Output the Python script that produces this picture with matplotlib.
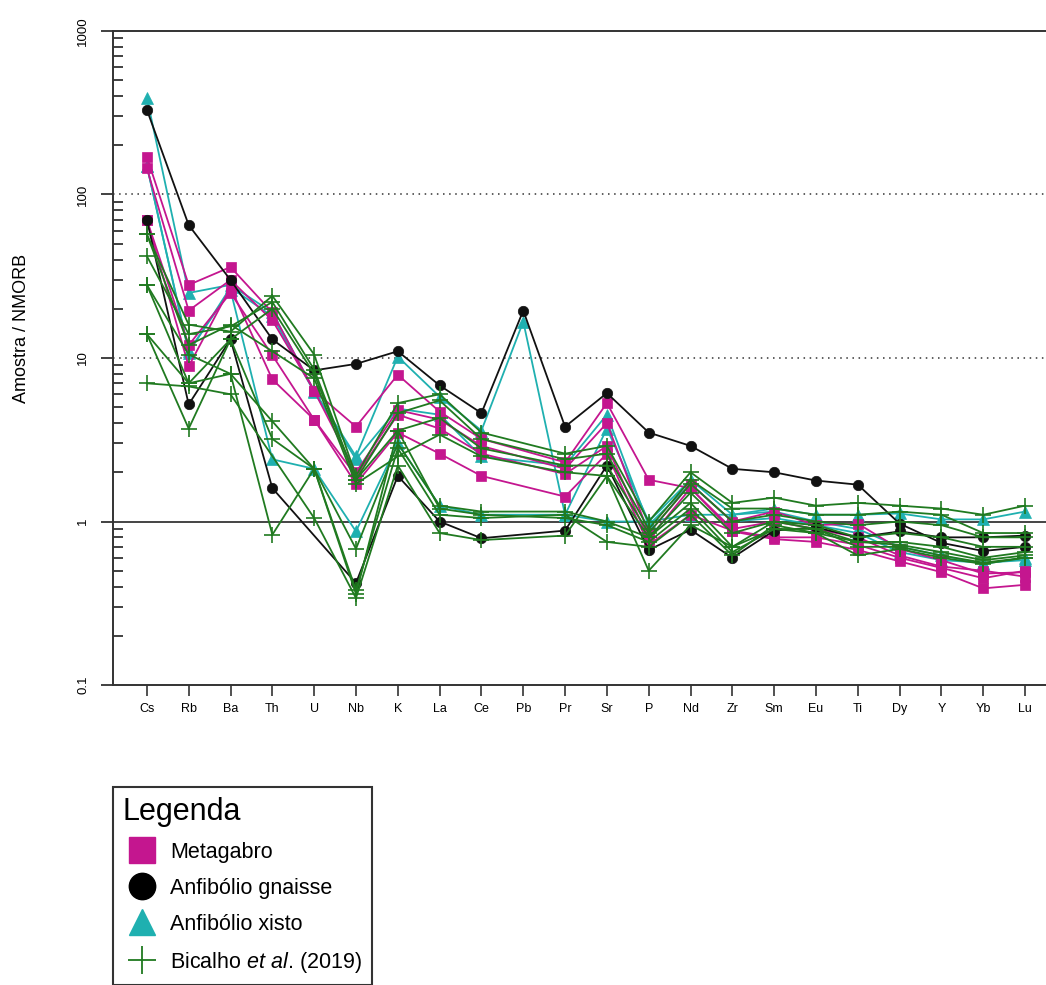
import numpy as np
import matplotlib
matplotlib.use('Agg')
import matplotlib.pyplot as plt
from matplotlib.lines import Line2D
from matplotlib.ticker import LogLocator, NullFormatter

plt.rcParams['font.family'] = ['Liberation Sans', 'DejaVu Sans']
plt.rcParams['mathtext.fontset'] = 'custom'
plt.rcParams['mathtext.rm'] = 'Liberation Sans'
plt.rcParams['mathtext.it'] = 'Liberation Sans:italic'

nan = np.nan

elements = ['Cs', 'Rb', 'Ba', 'Th', 'U', 'Nb', 'K', 'La', 'Ce', 'Pb', 'Pr',
            'Sr', 'P', 'Nd', 'Zr', 'Sm', 'Eu', 'Ti', 'Dy', 'Y', 'Yb', 'Lu']

# sample / N-MORB, one row per sample (nan = not analysed)
metagabro = [
    [170, 28, 36, 19, 6.3, 3.8, 7.9, 4.7, 3.2, nan, 2.3, 5.3, 1.8, 1.6, 0.87, 0.78, 0.75, 0.67, 0.57, 0.49, 0.39, 0.41],
    [145, 19.5, 30, 17, 6.3, 2.0, 4.8, 4.2, 2.9, nan, 2.1, 4.0, 0.85, 1.7, 1.0, 1.15, 0.95, 0.97, 0.68, 0.58, 0.48, 0.49],
    [70, 12, 25, 10.4, 4.2, 1.9, 4.5, 3.7, 2.6, nan, 1.95, 2.9, 0.78, 1.6, 0.9, 1.0, 0.9, 0.8, 0.62, 0.53, 0.5, 0.46],
    [70, 8.9, 27, 7.4, 4.2, 1.7, 3.5, 2.6, 1.9, nan, 1.42, 2.6, 0.72, 1.1, 0.88, 0.8, 0.8, 0.72, 0.6, 0.52, 0.45, 0.5],
]
anf_gnaisse = [
    [330, 65, 30, 13, 8.4, 9.2, 11, 6.8, 4.6, 19.5, 3.8, 6.1, 3.5, 2.9, 2.1, 2.0, 1.78, 1.68, 0.97, 0.74, 0.66, 0.70],
    [70, 5.2, 13, 1.6, nan, 0.42, 1.9, 1.0, 0.79, nan, 0.88, 2.2, 0.67, 0.89, 0.6, 0.88, 0.92, 0.8, 0.87, 0.8, 0.8, 0.82],
]
anf_xisto = [
    [390, 25, 28, 19, 6.3, 2.5, 10.2, 5.8, 3.6, 16.7, 1.1, 3.7, 1.0, 1.8, 1.1, 1.15, 1.0, 0.9, 0.7, 0.62, 0.55, 0.6],
    [150, 11, 26, 2.4, 2.1, 0.87, 3.0, 1.25, 1.1, nan, 1.1, 1.0, 1.0, 1.1, 1.1, 1.2, 1.1, 1.1, 1.12, 1.03, 1.03, 1.15],
    [150, 10.8, 27, 18, 6.2, 2.4, 4.9, 4.5, 2.5, nan, 2.2, 4.5, 0.95, 1.7, 1.0, 1.05, 0.95, 0.85, 0.65, 0.58, 0.56, 0.58],
]
bicalho = [
    [57, 16, 14.5, 24, 10.5, 1.9, 5.3, 6.0, 3.5, nan, 2.6, 2.9, 1.0, 2.0, 1.3, 1.4, 1.25, 1.3, 1.25, 1.2, 1.1, 1.25],
    [42, 14, 15.6, 22, 8.5, 1.8, 4.6, 5.5, 3.2, nan, 2.4, 2.6, 0.9, 1.8, 1.2, 1.2, 1.1, 1.1, 1.15, 1.1, 0.85, 0.85],
    [28, 7.0, 13, 20, 8.0, 1.8, 3.6, 4.3, 2.8, nan, 2.2, 2.2, 0.85, 1.7, 1.0, 1.1, 1.0, 0.95, 1.0, 0.95, 0.8, 0.8],
    [57, 12, 16, 11, 7.5, 1.7, 2.5, 3.4, 2.5, nan, 2.0, 1.9, 0.8, 1.5, 0.85, 1.0, 0.95, 0.8, 0.85, 0.8, 0.7, 0.7],
    [14, 7.0, 8.0, 4.1, 2.1, 0.68, 3.0, 1.25, 1.15, nan, 1.15, 1.0, 0.8, 1.3, 0.7, 1.0, 0.9, 0.75, 0.75, 0.7, 0.6, 0.65],
    [14, 3.7, 13, 3.2, 2.1, 0.38, 2.8, 1.1, 1.05, nan, 1.1, 0.75, 0.7, 1.1, 0.62, 0.95, 0.85, 0.62, 0.68, 0.6, 0.55, 0.6],
    [7.0, 6.7, 6.0, nan, 1.05, 0.34, 2.2, 0.85, 0.77, nan, 0.82, 1.9, 0.5, 0.95, 0.7, 0.9, 0.85, 0.75, 0.72, 0.65, 0.58, 0.62],
    [28, 10.5, 8.0, 0.83, 2.1, 0.36, 3.6, 1.2, 1.1, nan, 1.05, 0.95, 0.75, 1.2, 0.65, 0.9, 0.9, 0.7, 0.7, 0.62, 0.56, 0.6],
]

MAGENTA = '#c4168f'
BLACK = '#111111'
TEAL = '#1fb0b0'
GREEN = '#207a20'

W, H = 1046, 985
fig = plt.figure(figsize=(W / 100, H / 100), dpi=100)
ax = fig.add_axes([113 / W, 1 - 685 / H, 1 - 113 / W, (685 - 31) / H])

x = np.arange(len(elements))


def draw(group, color, marker, ms, mew, z):
    for vals in group:
        v = np.array(vals, dtype=float)
        ok = ~np.isnan(v)
        ax.plot(x[ok], v[ok], color=color, lw=1.3, marker=marker, ms=ms,
                mfc=color, mec=color, mew=mew, zorder=z)


draw(anf_xisto, TEAL, '^', 8.5, 0.5, 3)
draw(metagabro, MAGENTA, 's', 7.5, 0.5, 4)
draw(anf_gnaisse, BLACK, 'o', 7.5, 0.5, 5)
draw(bicalho, GREEN, '+', 11, 1.2, 6)

# reference levels
ax.axhline(100, color='#333333', lw=1.1, ls=(0, (1, 3)), zorder=1)
ax.axhline(10, color='#333333', lw=1.1, ls=(0, (1, 3)), zorder=1)
ax.axhline(1, color='#444444', lw=1.4, zorder=1)

ax.set_yscale('log')
ax.set_ylim(0.1, 1000)
ax.set_xlim(-0.81, 21.5)

ax.set_yticks([0.1, 1, 10, 100, 1000])
ax.set_yticklabels(['0.1', '1', '10', '100', '1000'], rotation=90, va='center')
ax.yaxis.set_minor_locator(LogLocator(base=10, subs=np.arange(2, 10), numticks=20))
ax.yaxis.set_minor_formatter(NullFormatter())
ax.tick_params(axis='y', which='major', direction='out', length=9, width=1.3,
               labelsize=9.5, pad=8, color='#333333')
ax.tick_params(axis='y', which='minor', direction='in', length=7, width=1.3,
               color='#333333')

ax.set_xticks(x)
ax.set_xticklabels(elements)
ax.tick_params(axis='x', direction='out', length=8, width=1.2, labelsize=9,
               pad=5, color='#333333')

ax.spines['right'].set_visible(False)
for side in ('left', 'top', 'bottom'):
    ax.spines[side].set_linewidth(1.4)
    ax.spines[side].set_color('#333333')

fig.text(22 / W, 1 - 328 / H, 'Amostra / NMORB', rotation=90, ha='center',
         va='center', fontsize=13)

handles = [
    Line2D([], [], ls='none', marker='s', ms=19, mfc=MAGENTA, mec=MAGENTA),
    Line2D([], [], ls='none', marker='o', ms=19, mfc='black', mec='black'),
    Line2D([], [], ls='none', marker='^', ms=19, mfc=TEAL, mec=TEAL),
    Line2D([], [], ls='none', marker='+', ms=20, mew=1.3, color=GREEN),
]
labels = ['Metagabro', 'Anfibólio gnaisse', 'Anfibólio xisto',
          r'Bicalho $\it{et\ al}$. (2019)']
leg = fig.legend(handles, labels, title='Legenda', title_fontsize=22,
                 fontsize=15.5, loc='upper left',
                 bbox_to_anchor=(113 / W, 1 - 787 / H), borderaxespad=0,
                 frameon=True, fancybox=False, edgecolor='#333333',
                 framealpha=1, borderpad=0.45, labelspacing=0.7,
                 handlelength=1.8, handletextpad=0.4, alignment='left')
leg.get_frame().set_linewidth(1.5)

fig.savefig('out.png', dpi=100)
